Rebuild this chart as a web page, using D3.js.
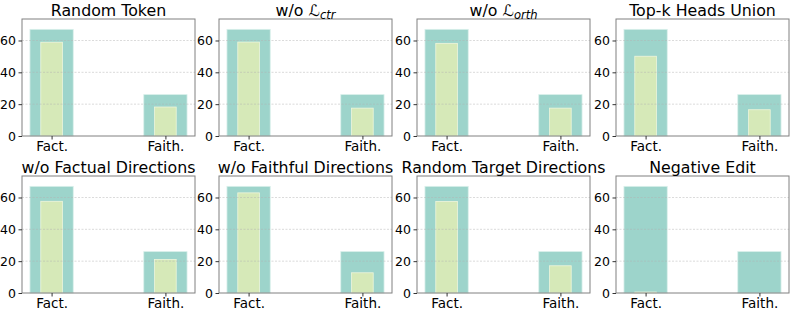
<!DOCTYPE html>
<html>
<head>
    <style>
        body { margin: 0; background: #fff; }
        svg text { font-family: "DejaVu Sans", sans-serif; fill: #000; }
        .title { font-size: 15.8px; text-anchor: middle; }
        .tick text { font-size: 12.5px; }
        .xax .tick text { font-size: 13.5px; }
    </style>
    <script src="https://d3js.org/d3.v7.min.js"></script>
</head>
<body>
    <svg width="793" height="314"></svg>
    <script>
        // data
        var categories = ["Fact.", "Faith."];
        var titles = ["Random Token", "w/o ℒ_ctr", "w/o ℒ_orth", "Top-k Heads Union",
                      "w/o Factual Directions", "w/o Faithful Directions", "Random Target Directions", "Negative Edit"];
        var original = [67, 26];
        var randomToken = [58.9, 18.2];
        var woCtr = [59.0, 17.5];
        var woOrth = [58.2, 17.5];
        var topkUnion = [50.1, 16.5];
        var woFactual = [57.6, 21.1];
        var woFaithful = [62.9, 12.7];
        var randomTarget = [57.5, 17.1];
        var negativeEdit = [0.6, 0];
        var edited = [randomToken, woCtr, woOrth, topkUnion, woFactual, woFaithful, randomTarget, negativeEdit];
        var yTicks = [0, 20, 40, 60];

        var svg = d3.select("svg");
        var pw = 173, ph = 117;
        var lefts = [22, 219, 417, 616];
        var tops = [19, 176];

        var x = d3.scaleLinear().domain([-0.26, 1.26]).range([0, pw]);
        var y = d3.scaleLinear().domain([0, 73.5]).range([ph, 0]);

        titles.forEach(function(t, i) {
            var g = svg.append("g")
                .attr("transform", "translate(" + lefts[i % 4] + "," + tops[Math.floor(i / 4)] + ")");

            // bars
            g.selectAll(".orig").data(original).enter().append("rect")
                .attr("x", function(d, j) { return x(j - 0.19); })
                .attr("width", x(0.19) - x(-0.19))
                .attr("y", function(d) { return y(d); })
                .attr("height", function(d) { return y(0) - y(d); })
                .attr("fill", "#9dd4cb")
                .attr("stroke", "#d8efea").attr("stroke-width", 0.8);

            g.selectAll(".ed").data(edited[i]).enter().append("rect")
                .attr("x", function(d, j) { return x(j - 0.095); })
                .attr("width", x(0.095) - x(-0.095))
                .attr("y", function(d) { return y(d); })
                .attr("height", function(d) { return y(0) - y(d); })
                .attr("fill", "#d6e9b8")
                .attr("stroke", "#eef5dc").attr("stroke-width", 0.8);

            // grid
            g.selectAll(".grid").data(yTicks.slice(1)).enter().append("line")
                .attr("x1", 0).attr("x2", pw)
                .attr("y1", function(d) { return y(d); })
                .attr("y2", function(d) { return y(d); })
                .attr("stroke", "#b0b0b0").attr("stroke-opacity", 0.6)
                .attr("stroke-width", 0.8).attr("stroke-dasharray", "2,1.5");

            // frame
            g.append("rect").attr("width", pw).attr("height", ph)
                .attr("fill", "none").attr("stroke", "#808080").attr("stroke-width", 1);

            var ya = g.append("g").attr("class", "yax")
                .call(d3.axisLeft(y).tickValues(yTicks).tickSize(3.5).tickPadding(2.5).tickFormat(d3.format("d")));
            ya.select(".domain").remove();
            ya.selectAll("line").attr("stroke", "#333");

            var xa = g.append("g").attr("class", "xax").attr("transform", "translate(0," + ph + ")")
                .call(d3.axisBottom(x).tickValues([0, 1]).tickSize(3.5).tickPadding(1.5)
                    .tickFormat(function(d) { return categories[d]; }));
            xa.select(".domain").remove();
            xa.selectAll("line").attr("stroke", "#333");

            // title, with math subscript
            var title = g.append("text").attr("class", "title")
                .attr("x", pw / 2).attr("y", -3);
            var parts = t.split("_");
            title.append("tspan").text(parts[0]);
            if (parts.length > 1) {
                title.append("tspan").text(parts[1])
                    .attr("font-style", "italic").attr("font-size", "11.5px").attr("dy", 3);
            }
        });
    </script>
</body>
</html>
